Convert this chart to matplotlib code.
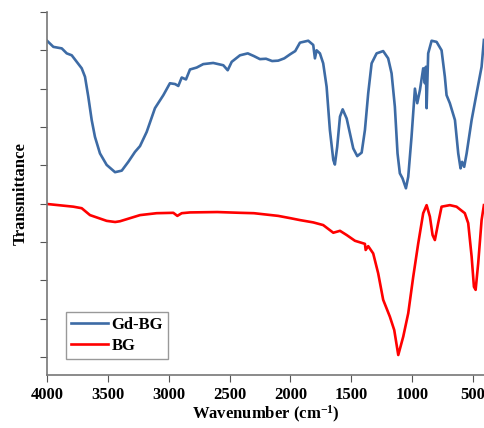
import matplotlib
matplotlib.use("Agg")
import matplotlib.pyplot as plt

plt.rcParams['font.family'] = ['Liberation Serif', 'DejaVu Serif']
plt.rcParams['font.weight'] = 'bold'
plt.rcParams['mathtext.fontset'] = 'custom'
plt.rcParams['mathtext.rm'] = 'Liberation Serif:bold'
plt.rcParams['mathtext.default'] = 'rm'

# Gd-BG spectrum (wavenumber, arbitrary transmittance units)
gd_wn = [4000, 3948, 3879, 3838, 3797, 3756, 3715, 3688, 3661, 3633, 3606, 3565,
         3510, 3441, 3386, 3332, 3277, 3236, 3181, 3113, 3044, 2990, 2948, 2921,
         2893, 2858, 2825, 2770, 2716, 2634, 2551, 2515, 2482, 2414, 2350, 2300,
         2250, 2200, 2150, 2100, 2050, 2000, 1960, 1921, 1853, 1812, 1798, 1784,
         1757, 1730, 1702, 1675, 1647, 1634, 1615, 1592, 1570, 1537, 1510, 1483,
         1450, 1414, 1387, 1360, 1332, 1291, 1237, 1196, 1168, 1141, 1119, 1100,
         1078, 1050, 1031, 1004, 976, 957, 935, 908, 894, 886, 880, 867, 839, 798,
         757, 730, 716, 689, 647, 620, 601, 588, 571, 551, 510, 469, 428, 409]
gd_t = [8.25, 8.09, 8.05, 7.92, 7.87, 7.70, 7.53, 7.31, 6.79, 6.18, 5.74, 5.31,
        5.01, 4.82, 4.86, 5.09, 5.35, 5.50, 5.87, 6.49, 6.83, 7.14, 7.12, 7.07,
        7.29, 7.24, 7.50, 7.55, 7.64, 7.67, 7.61, 7.48, 7.70, 7.87, 7.92, 7.85,
        7.77, 7.78, 7.72, 7.73, 7.79, 7.90, 7.98, 8.20, 8.25, 8.14, 7.79, 8.00,
        7.92, 7.66, 7.05, 5.92, 5.14, 5.02, 5.48, 6.27, 6.46, 6.22, 5.83, 5.44,
        5.24, 5.33, 5.92, 6.88, 7.66, 7.92, 7.98, 7.79, 7.40, 6.53, 5.31, 4.79,
        4.66, 4.40, 4.70, 5.74, 7.00, 6.62, 6.96, 7.53, 7.14, 7.57, 6.49, 7.92,
        8.25, 8.22, 8.00, 7.31, 6.83, 6.62, 6.18, 5.31, 4.92, 5.09, 4.96, 5.31,
        6.18, 6.88, 7.57, 8.27]

# BG spectrum
bg_wn = [4000, 3784, 3715, 3647, 3510, 3440, 3400, 3236, 3099, 2962, 2929, 2893,
         2825, 2600, 2414, 2300, 2100, 2000, 1921, 1812, 1730, 1647, 1592, 1537,
         1469, 1387, 1381, 1360, 1319, 1278, 1237, 1182, 1146, 1113, 1072, 1031,
         990, 949, 908, 880, 853, 831, 812, 785, 757, 689, 634, 566, 538, 510,
         491, 477, 456, 428, 409]
bg_t = [3.99, 3.92, 3.88, 3.70, 3.55, 3.52, 3.54, 3.70, 3.75, 3.76, 3.68, 3.75,
        3.77, 3.78, 3.76, 3.75, 3.68, 3.62, 3.57, 3.51, 3.44, 3.24, 3.29, 3.18,
        3.03, 2.95, 2.79, 2.89, 2.70, 2.18, 1.49, 1.05, 0.70, 0.05, 0.53, 1.14,
        2.09, 2.96, 3.75, 3.96, 3.66, 3.18, 3.05, 3.49, 3.92, 3.96, 3.92, 3.75,
        3.49, 2.62, 1.83, 1.75, 2.44, 3.57, 3.96]

xticks = [4000, 3500, 3000, 2500, 2000, 1500, 1000, 500]

fig = plt.figure(figsize=(4.85, 4.28), dpi=100)
ax = fig.add_axes([0.097, 0.124, 0.903, 0.848])

ax.plot(gd_wn, gd_t, color='#3d6ba5', lw=1.9, label='Gd-BG')
ax.plot(bg_wn, bg_t, color='#ff0000', lw=1.9, label='BG')

ax.set_xlim(4000, 400)
ax.set_ylim(-0.47, 9.0)
ax.set_xticks(xticks)
ax.set_yticks(range(10))
ax.set_yticklabels([])
ax.tick_params(axis='both', direction='out', length=5, color='#555555', labelsize=12)
for lbl in ax.get_xticklabels():
    lbl.set_fontweight('bold')

for s in ['top', 'right']:
    ax.spines[s].set_visible(False)
for s in ['left', 'bottom']:
    ax.spines[s].set_color('#777777')
    ax.spines[s].set_linewidth(1.2)

ax.set_xlabel('Wavenumber (cm$^{-1}$)', fontsize=12, fontweight='bold', labelpad=1)
ax.set_ylabel('Transmittance', fontsize=12, fontweight='bold', labelpad=5)

leg = ax.legend(loc='lower left', bbox_to_anchor=(0.044, 0.045), fancybox=False,
                framealpha=1, edgecolor='#999999', prop={'weight': 'bold', 'size': 12},
                handlelength=2.2, handletextpad=0.2, borderpad=0.3, labelspacing=0.3,
                borderaxespad=0)

fig.savefig('out.png', dpi=100)
